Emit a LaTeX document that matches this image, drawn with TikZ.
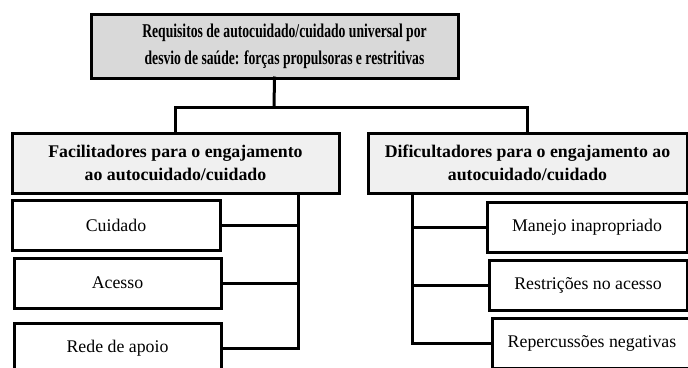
\documentclass[tikz,border=0pt]{standalone}
\usepackage{fontspec}
\setmainfont{Liberation Serif}
\newfontfamily\condfont[FakeStretch=0.70]{Liberation Serif}
\begin{document}
\begin{tikzpicture}[x=1pt,y=-1pt,
  box/.style={draw=black,line width=3pt,rectangle,inner sep=0pt,outer sep=0pt,align=center},
  topbox/.style={box,fill=topgray,minimum width=367pt,minimum height=64pt,font=\condfont\fontsize{19.5}{27}\selectfont\bfseries},
  headbox/.style={box,fill=headgray,minimum height=60pt,font=\fontsize{17.8}{23}\selectfont\bfseries},
  itembox/.style={box,fill=white,minimum height=50pt,font=\fontsize{17.8}{21}\selectfont},
  conn/.style={line width=3pt,line cap=rect}]
\definecolor{topgray}{gray}{0.85}
\definecolor{headgray}{gray}{0.94}
\useasboundingbox (0,0) rectangle (688,367);
\begin{scope}
\clip (0,0) rectangle (688,367);
\node[topbox] (top) at (274.5,46) {\hspace*{20pt}Requisitos de autocuidado/cuidado universal por\\\hspace*{20pt}desvio de saúde: forças propulsoras e restritivas};
\node[headbox,minimum width=327pt] (lh) at (175.5,163) {Facilitadores para o engajamento\\ao autocuidado/cuidado};
\node[headbox,minimum width=319pt] (rh) at (527.5,163) {Dificultadores para o engajamento ao\\autocuidado/cuidado};
\node[itembox,minimum width=208pt] (cuid) at (116,225) {Cuidado};
\node[itembox,minimum width=207pt] (aces) at (117.5,283) {Acesso};
\node[itembox,minimum width=207pt] (rede) at (117.5,348) {Rede de apoio};
\node[itembox,minimum width=200pt] (man) at (587,227.5) {Manejo inapropriado};
\node[itembox,minimum width=198pt] (rest) at (588,285.5) {Restrições no acesso};
\node[itembox,minimum width=200pt] (rep) at (592,343) {Repercussões negativas};
\coordinate (bar) at (274,107);
\coordinate (lv) at (298,0);
\coordinate (rv) at (412,0);
\draw[conn] (top.south) -- (bar);
\draw[conn] (lh.north) |- (bar) -| (rh.north);
\draw[conn] (lh.south -| lv) |- (rede.east);
\draw[conn] (lv |- cuid.east) -- (cuid.east);
\draw[conn] (lv |- aces.east) -- (aces.east);
\draw[conn] (rh.south -| rv) |- (rep.west);
\draw[conn] (rv |- man.west) -- (man.west);
\draw[conn] (rv |- rest.west) -- (rest.west);
\end{scope}
\end{tikzpicture}
\end{document}
